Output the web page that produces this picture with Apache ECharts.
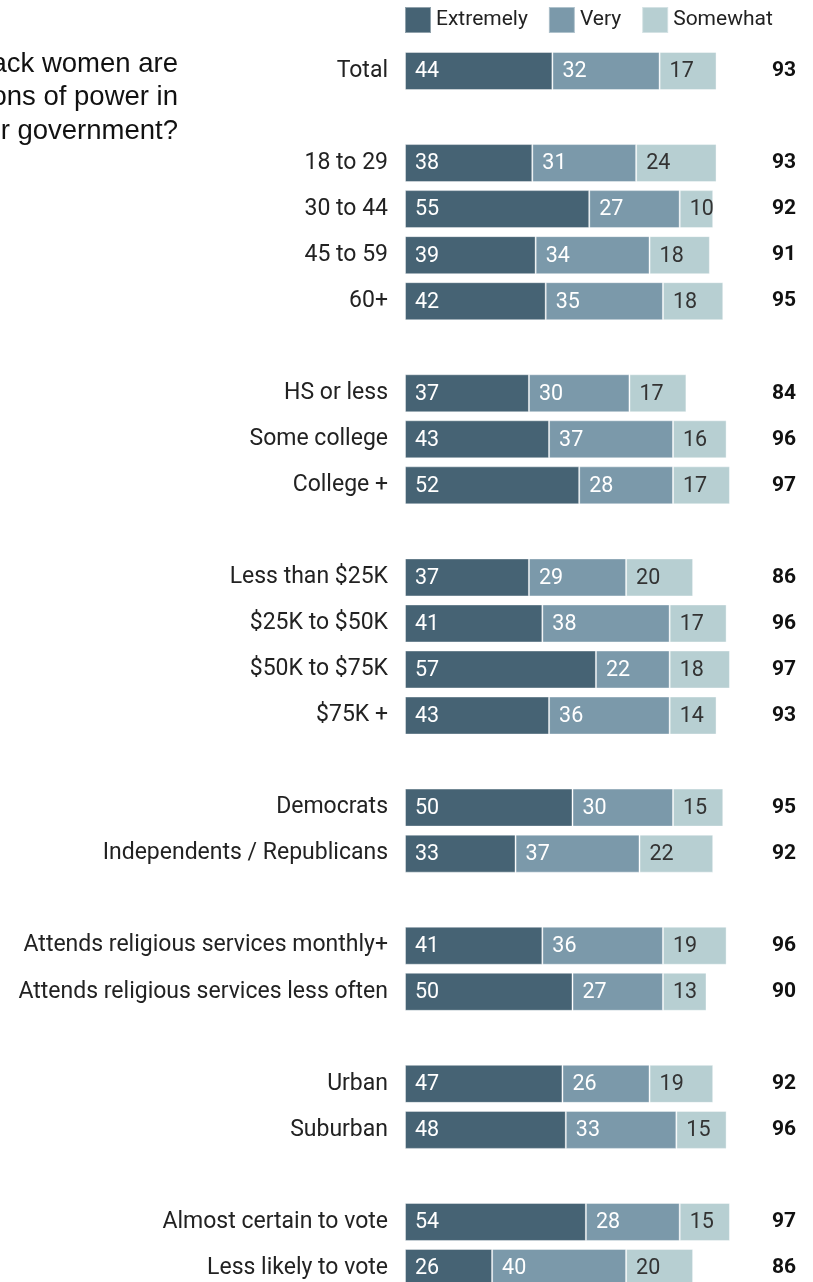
<!DOCTYPE html>
<html>
<head>
<meta charset="utf-8">
<script src="https://cdn.jsdelivr.net/npm/echarts@6/dist/echarts.min.js"></script>
<style>
html,body{margin:0;padding:0;background:#fff;}
#chart{width:813px;height:1282px;}
</style>
</head>
<body>
<div id="chart"></div>
<script>
// '' entries are the blank spacer rows between groups
const categories = ['Total','', '18 to 29','30 to 44','45 to 59','60+','',
  'HS or less','Some college','College +','',
  'Less than $25K','$25K to $50K','$50K to $75K','$75K +','',
  'Democrats','Independents / Republicans','',
  'Attends religious services monthly+','Attends religious services less often','',
  'Urban','Suburban','',
  'Almost certain to vote','Less likely to vote'];
const extremely = [44,null, 38,55,39,42,null, 37,43,52,null, 37,41,57,43,null, 50,33,null, 41,50,null, 47,48,null, 54,26];
const very      = [32,null, 31,27,34,35,null, 30,37,28,null, 29,38,22,36,null, 30,37,null, 36,27,null, 26,33,null, 28,40];
const somewhat  = [17,null, 24,10,18,18,null, 17,16,17,null, 20,17,18,14,null, 15,22,null, 19,13,null, 19,15,null, 15,20];
const totals    = ['93','', '93','92','91','95','', '84','96','97','', '86','96','97','93','', '95','92','', '96','90','', '92','96','', '97','86'];
const titleLines = ['ack women are','ons of power in','r government?'];

const chart = echarts.init(document.getElementById('chart'), null, {renderer:'canvas'});
const FONT = 'Roboto';
function mk(name, data, color, labelColor){
  return {
    name, type:'bar', stack:'all', data, barWidth:38,
    itemStyle:{color, borderColor:'rgba(255,255,255,0.4)', borderWidth:1},
    label:{show:true, position:'insideLeft', distance:10, offset:[0,1], color:labelColor,
      fontFamily:FONT, fontSize:21.5, formatter: p => p.value},
    emphasis:{disabled:true}, animation:false
  };
}
chart.setOption({
  animation:false,
  textStyle:{fontFamily:FONT},
  legend:{
    left:404, top:6, padding:0, itemWidth:26, itemHeight:26, itemGap:20, icon:'rect',
    textStyle:{fontFamily:FONT, fontSize:21, color:'#222'},
    data:['Extremely','Very','Somewhat']
  },
  grid:{left:405, top:71, width:335, height:1197, containLabel:false},
  xAxis:{type:'value', min:0, max:100, show:false},
  yAxis:[
    {type:'category', inverse:true, boundaryGap:false, data:categories,
     axisLine:{show:false}, axisTick:{show:false}, splitLine:{show:false},
     axisLabel:{margin:17, fontFamily:FONT, fontSize:23, color:'#222', interval:0, padding:[2,0,0,0]}},
    {type:'category', inverse:true, boundaryGap:false, position:'right', data:totals,
     axisLine:{show:false}, axisTick:{show:false}, splitLine:{show:false},
     axisLabel:{margin:56, align:'right', fontFamily:FONT, fontSize:21, fontWeight:'bold', color:'#111', interval:0}}
  ],
  graphic: titleLines.map((t,i)=>({
    type:'text', x:178, y:64 + i*33.5, silent:true,
    style:{text:t, font:'27.5px "Liberation Sans", Arial, sans-serif', fill:'#111',
      textAlign:'right', textVerticalAlign:'middle'}
  })),
  series:[
    mk('Extremely', extremely, '#466374', '#ffffff'),
    mk('Very', very, '#7b99aa', '#ffffff'),
    mk('Somewhat', somewhat, '#b7cfd2', '#333333')
  ]
});
</script>
</body>
</html>
